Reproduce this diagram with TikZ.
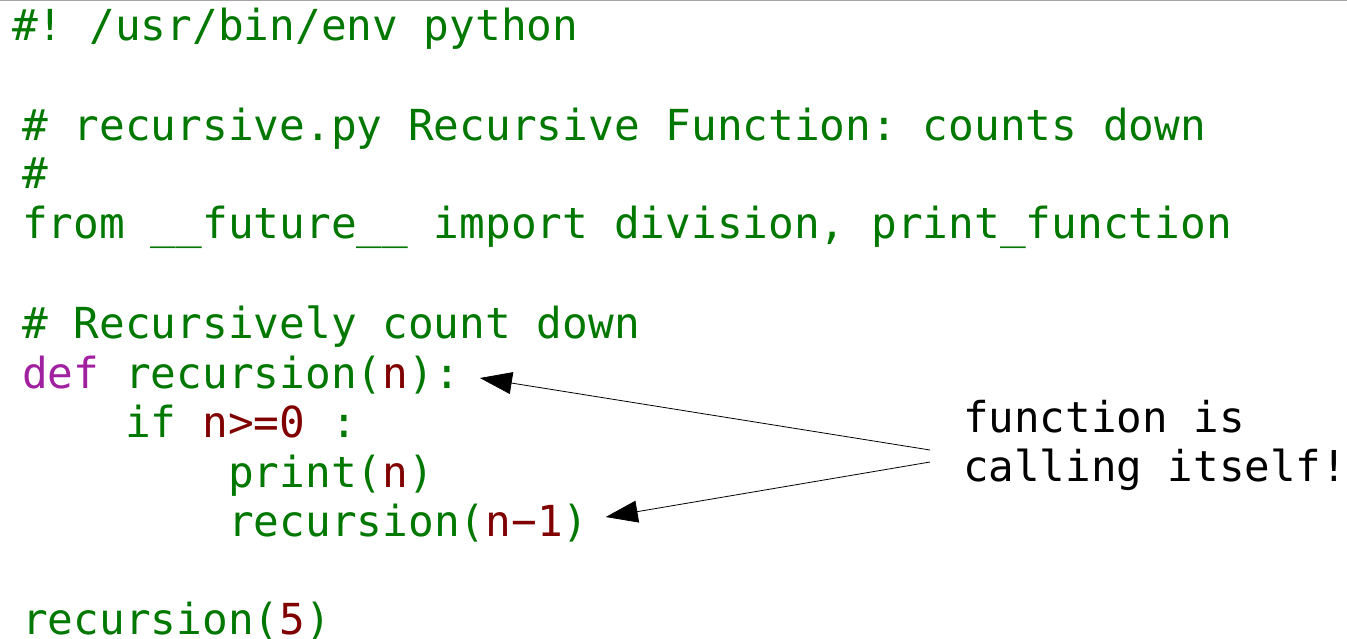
\documentclass[tikz,border=0pt]{standalone}
\usepackage{fontspec}
\setmonofont{DejaVu Sans Mono}
\usetikzlibrary{arrows.meta}
\definecolor{codegreen}{RGB}{0,120,0}
\definecolor{codered}{RGB}{128,0,0}
\definecolor{codemag}{RGB}{160,32,160}
\definecolor{rulegray}{RGB}{165,165,165}
\begin{document}
\begin{tikzpicture}[x=1pt,y=-1pt,
  code/.style={anchor=base west, inner sep=0pt, font=\ttfamily\fontsize{42.75}{49.5}\selectfont, text=codegreen},
  note/.style={anchor=base west, inner sep=0pt, font=\ttfamily\fontsize{42.5}{49.5}\selectfont, text=black},
  callarrow/.style={draw=black, line width=0.8pt, -{Triangle[length=32pt,width=22pt]}}]
\useasboundingbox (0,0) rectangle (1347,638);
\draw[rulegray, line width=2pt] (0,0) -- (1347,0);
\node[code] (shebang) at (12,40) {\#! /usr/bin/env python};
\node[code] (comment1) at (22,140) {\# recursive.py Recursive Function: counts down};
\node[code] (comment2) at (22,188) {\#};
\node[code] (imp) at (22,238) {from \_\_future\_\_ import division, print\_function};
\node[code] (comment3) at (22,338) {\# Recursively count down};
\node[code] (def) at (22,388) {\textcolor{codemag}{def} recursion(\textcolor{codered}{n}):};
\node[code] (iff) at (125,437) {if \textcolor{codered}{n>=0} :};
\node[code] (prt) at (228,487) {print(\textcolor{codered}{n})};
\node[code] (rec) at (228,536) {recursion(\textcolor{codered}{n−1})};
\node[code] (call) at (22,634) {recursion(\textcolor{codered}{5})};
\node[note] (lab1) at (963,432) {function is};
\node[note] (lab2) at (963,481) {calling itself!};
\draw[callarrow] ([xshift=-33pt,yshift=31pt]lab2.base west) -- ([xshift=20pt,yshift=10pt]def.base east);
\draw[callarrow] ([xshift=-33pt,yshift=19pt]lab2.base west) -- ([xshift=17pt,yshift=19pt]rec.base east);
\end{tikzpicture}
\end{document}
